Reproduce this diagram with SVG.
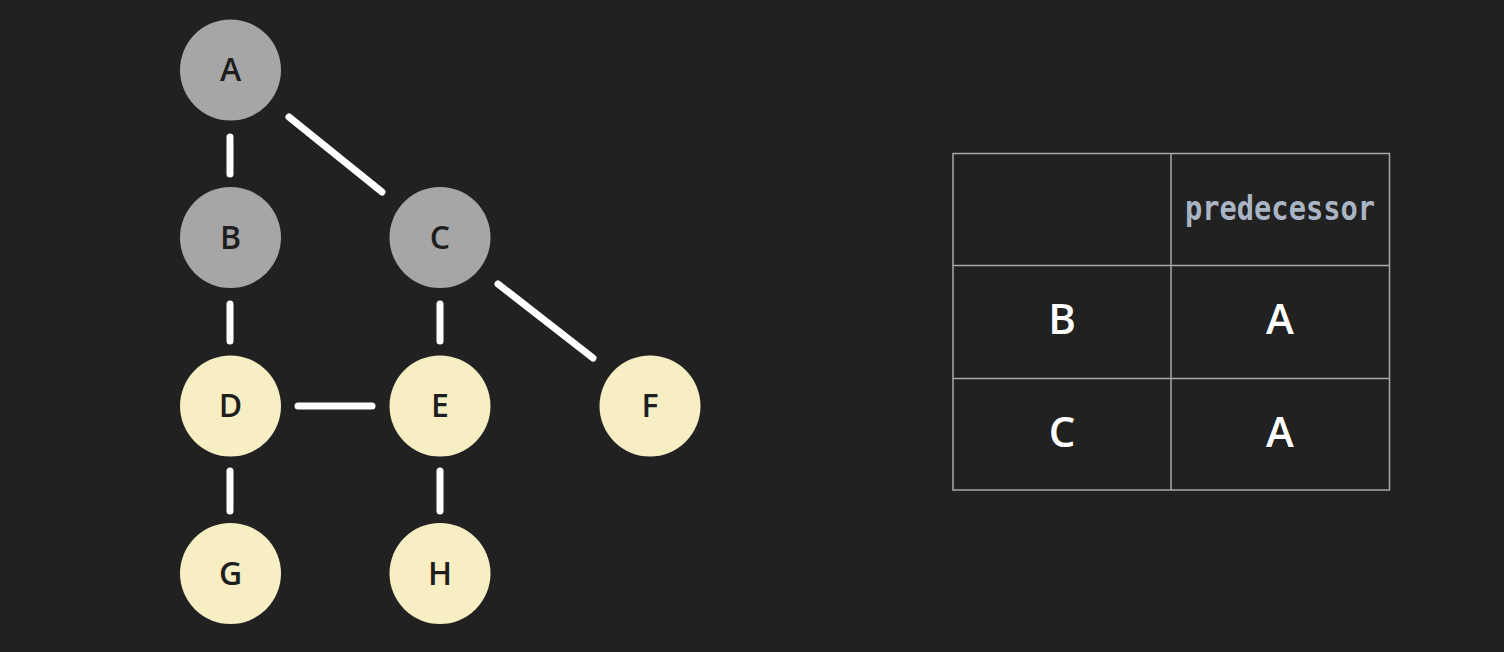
<svg xmlns="http://www.w3.org/2000/svg" width="1504" height="652" viewBox="0 0 1504 652">
<style>
.bg{fill:#212121}
.edge{stroke:#ffffff;stroke-width:7;stroke-linecap:round;fill:none}
.visited{fill:#a6a6a6}
.frontier{fill:#f8eec4}
.nl{font-family:"Open Sans","Noto Sans",sans-serif;font-weight:600;font-size:32px;fill:#1e1e1e;text-anchor:middle}
.grid{stroke:#a8a8a8;stroke-width:1.5;fill:none}
.th{font-family:"DejaVu Sans Mono","Liberation Mono",monospace;font-weight:bold;font-size:33px;fill:#a9b5c5;text-anchor:middle}
.td{font-family:"Open Sans","Noto Sans",sans-serif;font-weight:600;font-size:42px;fill:#ffffff;text-anchor:middle}
</style>
<rect class="bg" x="0" y="0" width="1504" height="652"/>
<g id="connectors">
<line class="edge" x1="230" y1="137" x2="230" y2="174"/>
<line class="edge" x1="289" y1="117" x2="382" y2="192"/>
<line class="edge" x1="230" y1="304" x2="230" y2="341"/>
<line class="edge" x1="440" y1="304" x2="440" y2="341"/>
<line class="edge" x1="498" y1="284" x2="593" y2="358"/>
<line class="edge" x1="298" y1="406" x2="372" y2="406"/>
<line class="edge" x1="230" y1="471" x2="230" y2="511"/>
<line class="edge" x1="440" y1="471" x2="440" y2="511"/>
</g>
<g id="node-A"><circle class="visited" cx="230.5" cy="70" r="50.5"/><text class="nl" x="230.5" y="81">A</text></g>
<g id="node-B"><circle class="visited" cx="230.5" cy="237.5" r="50.5"/><text class="nl" x="230.5" y="249">B</text></g>
<g id="node-C"><circle class="visited" cx="440" cy="237.5" r="50.5"/><text class="nl" x="440" y="249">C</text></g>
<g id="node-D"><circle class="frontier" cx="230.5" cy="406" r="50.5"/><text class="nl" x="230.5" y="417">D</text></g>
<g id="node-E"><circle class="frontier" cx="440" cy="406" r="50.5"/><text class="nl" x="440" y="417">E</text></g>
<g id="node-F"><circle class="frontier" cx="650" cy="406" r="50.5"/><text class="nl" x="650" y="417">F</text></g>
<g id="node-G"><circle class="frontier" cx="230.5" cy="573.5" r="50.5"/><text class="nl" x="230.5" y="585">G</text></g>
<g id="node-H"><circle class="frontier" cx="440" cy="573.5" r="50.5"/><text class="nl" x="440" y="585">H</text></g>
<g id="table">
<rect class="grid" x="953" y="153.5" width="436.5" height="336.5"/>
<line class="grid" x1="1171" y1="153.5" x2="1171" y2="490"/>
<line class="grid" x1="953" y1="265.5" x2="1389.5" y2="265.5"/>
<line class="grid" x1="953" y1="378.5" x2="1389.5" y2="378.5"/>
<text class="th" x="1280" y="220" textLength="190" lengthAdjust="spacingAndGlyphs">predecessor</text>
<text class="td" x="1062" y="334">B</text>
<text class="td" x="1280" y="334">A</text>
<text class="td" x="1062" y="447">C</text>
<text class="td" x="1280" y="447">A</text>
</g>
</svg>
